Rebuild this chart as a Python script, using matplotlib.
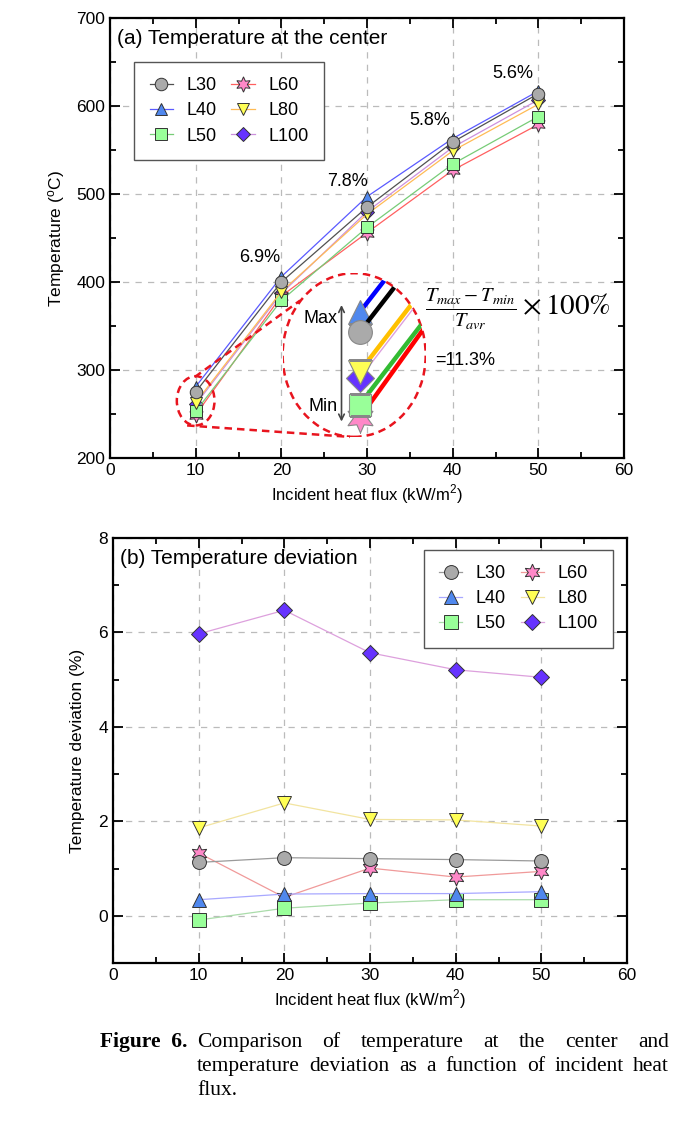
import numpy as np
import matplotlib.pyplot as plt
from matplotlib.patches import Ellipse

plt.rcParams['font.family'] = ['Liberation Sans', 'DejaVu Sans']
plt.rcParams['mathtext.fontset'] = 'stix'

flux = [10, 20, 30, 40, 50]
names = ['L30', 'L40', 'L50', 'L60', 'L80', 'L100']

# (a) temperature at the center, degC
temp = {
    'L30': [275, 400, 485, 559, 614],
    'L40': [281, 406, 497, 563, 617],
    'L50': [253, 379, 462, 534, 588],
    'L60': [249, 384, 456, 527, 579],
    'L80': [263, 389, 477, 549, 602],
    'L100': [261, 387, 480, 553, 607],
}
spread_labels = ['6.9%', '7.8%', '5.8%', '5.6%']

# (b) temperature deviation, %
dev = {
    'L30': [1.13, 1.23, 1.21, 1.19, 1.16],
    'L40': [0.34, 0.46, 0.47, 0.47, 0.51],
    'L50': [-0.09, 0.16, 0.27, 0.34, 0.34],
    'L60': [1.33, 0.39, 1.01, 0.82, 0.94],
    'L80': [1.86, 2.39, 2.04, 2.03, 1.90],
    'L100': [5.97, 6.47, 5.57, 5.21, 5.05],
}

markers = {'L30': 'o', 'L40': '^', 'L50': 's', 'L60': (6, 1, 0), 'L80': 'v', 'L100': 'D'}
faces = {'L30': '#aaaaaa', 'L40': '#5088ee', 'L50': '#99ff99', 'L60': '#ff88c8',
         'L80': '#ffff55', 'L100': '#6633ff'}
line_a = {'L30': '#505050', 'L40': '#5a5aff', 'L50': '#77cc77', 'L60': '#ff6060',
          'L80': '#ffbb55', 'L100': '#cc90dd'}
line_b = {'L30': '#9a9a9a', 'L40': '#a8a8ff', 'L50': '#aadcaa', 'L60': '#f09a9a',
          'L80': '#f2e4a0', 'L100': '#dda0dd'}
line_zoom = {'L30': 'black', 'L40': 'blue', 'L50': '#33bb33', 'L60': 'red',
             'L80': '#ffc000', 'L100': '#dda0dd'}
lw_zoom = {'L30': 3.2, 'L40': 3.2, 'L50': 3.2, 'L60': 3.2, 'L80': 3.2, 'L100': 1.0}
order = {'L30': 8, 'L40': 7, 'L50': 5, 'L60': 4, 'L80': 6, 'L100': 3}
msize = {'L30': 9, 'L40': 9, 'L50': 8.5, 'L60': 11, 'L80': 9, 'L100': 7.5}

fig = plt.figure(figsize=(6.87, 11.26), dpi=100)
W, H = 687, 1126
leg_kw = dict(ncol=2, fontsize=13, fancybox=False, edgecolor='#555555', framealpha=1,
              borderaxespad=0, columnspacing=0.8, handlelength=1.3, handletextpad=0.75,
              borderpad=0.85, labelspacing=0.45)


def style_axes(ax, ymin, ymax, ymin_step):
    ax.set_xlim(0, 60)
    ax.set_ylim(ymin, ymax)
    ax.set_xticks(np.arange(0, 61, 10))
    ax.set_xticks(np.arange(0, 61, 5), minor=True)
    ax.set_yticks(np.arange(ymin, ymax + 1e-9, ymin_step), minor=True)
    ax.tick_params(which='both', direction='in', top=True, right=True, labelsize=12.5, width=1.3)
    ax.tick_params(which='major', length=7)
    ax.tick_params(which='minor', length=4)
    ax.grid(True, which='major', linestyle=(0, (5, 5)), color='#bbbbbb', linewidth=0.9)
    for s in ax.spines.values():
        s.set_linewidth(1.6)
    ax.set_xlabel('Incident heat flux (kW/m$^\\mathregular{2}$)', fontsize=12, labelpad=4)


# ---------------- (a) ----------------
ax1 = fig.add_axes([110 / W, 1 - 458 / H, 514 / W, 440 / H])
style_axes(ax1, 200, 700, 50)
ax1.set_yticks(np.arange(200, 701, 100))
for n in names:
    ax1.plot(flux, temp[n], color=line_a[n], lw=0.9, marker=markers[n], ms=msize[n],
             mfc=faces[n], mec='#333333', mew=0.7, label=n, zorder=order[n])
ax1.set_ylabel('Temperature ($^\\mathregular{o}$C)', fontsize=12.5, labelpad=6)
ax1.text(0.013, 0.975, '(a) Temperature at the center', transform=ax1.transAxes,
         fontsize=15, va='top', ha='left')
ax1.legend(loc='upper left', bbox_to_anchor=(0.047, 0.9), **leg_kw)

lab_xy = [(17.5, 428), (27.7, 514), (37.3, 583), (47.0, 637)]
for (lx, ly), s in zip(lab_xy, spread_labels):
    ax1.text(lx, ly, s, fontsize=13, ha='center', va='center')

# callout around the 10 kW/m2 points
red = '#e8141e'
ax1.add_patch(Ellipse((10, 265), 4.4, 56, fill=False, ec=red, lw=1.8, ls=(0, (3, 2)), zorder=9))
ax1.plot([9.9, 22.2], [292, 379], color=red, lw=1.8, ls=(0, (3, 2)), zorder=9)
ax1.plot([9.0, 28.0], [237, 224], color=red, lw=1.8, ls=(0, (3, 2)), zorder=9)

ax_in = ax1.inset_axes([20.15, 224, 16.7, 186], transform=ax1.transData, zorder=10)
ax_in.set_xlim(7.59, 12.06)
ax_in.set_ylim(243.2, 292.8)
ax_in.axis('off')
clip = Ellipse((0.5, 0.5), 1, 1, transform=ax_in.transAxes, fill=False, ec=red,
               lw=1.8, ls=(0, (3, 2)))
ax_in.add_patch(clip)
for n in names:
    ln, = ax_in.plot(flux, temp[n], color=line_zoom[n], lw=lw_zoom[n], marker=markers[n],
                     ms=msize[n] * 1.9, mfc=faces[n], mec='#888888', mew=0.8,
                     zorder=order[n])
    ln.set_clip_path(clip)
first = [temp[n][0] for n in names]
ax_in.annotate('', xy=(9.43, min(first) - 2), xytext=(9.43, max(first) + 3),
               arrowprops=dict(arrowstyle='<->', color='#444444', lw=1.2))
ax_in.text(9.3, 279, 'Max', ha='right', va='center', fontsize=13)
ax_in.text(9.3, 252.3, 'Min', ha='right', va='center', fontsize=13)

ax1.text(47.6, 370, r'$\frac{T_{max}-T_{min}}{T_{avr}}\times 100\%$', fontsize=21,
         ha='center', va='center')
ax1.text(37.9, 311, '=11.3%', fontsize=13, ha='left', va='center')

# ---------------- (b) ----------------
ax2 = fig.add_axes([113 / W, 1 - 963 / H, 514 / W, 425 / H])
style_axes(ax2, -1, 8, 1)
ax2.set_yticks([0, 2, 4, 6, 8])
for n in names:
    ax2.plot(flux, dev[n], color=line_b[n], lw=0.9, marker=markers[n], ms=msize[n] + 1,
             mfc=faces[n], mec='#333333', mew=0.7, label=n, zorder=order[n])
ax2.set_ylabel('Temperature deviation (%)', fontsize=12.5, labelpad=10)
ax2.text(0.013, 0.975, '(b) Temperature deviation', transform=ax2.transAxes,
         fontsize=15, va='top', ha='left')
ax2.legend(loc='upper right', bbox_to_anchor=(0.973, 0.972), **leg_kw)

# ---------------- caption ----------------
cap_kw = dict(fontsize=15.5, family='Liberation Serif', va='baseline')
fig.text(100 / W, 1 - 1047 / H, 'Figure  6.', fontweight='bold', **cap_kw)


def justify(words, x0, x1, y):
    texts = [fig.text(0, 1 - y / H, w, **cap_kw) for w in words]
    r = fig.canvas.get_renderer()
    widths = [t.get_window_extent(r).width for t in texts]
    gap = (x1 - x0 - sum(widths)) / (len(words) - 1)
    x = x0
    for t, w in zip(texts, widths):
        t.set_x(x / W)
        x += w + gap


justify('Comparison of temperature at the center and'.split(), 197, 669, 1047)
justify('temperature deviation as a function of incident heat'.split(), 197, 669, 1071)
fig.text(197 / W, 1 - 1095 / H, 'flux.', **cap_kw)

fig.savefig('out.png', dpi=100)
